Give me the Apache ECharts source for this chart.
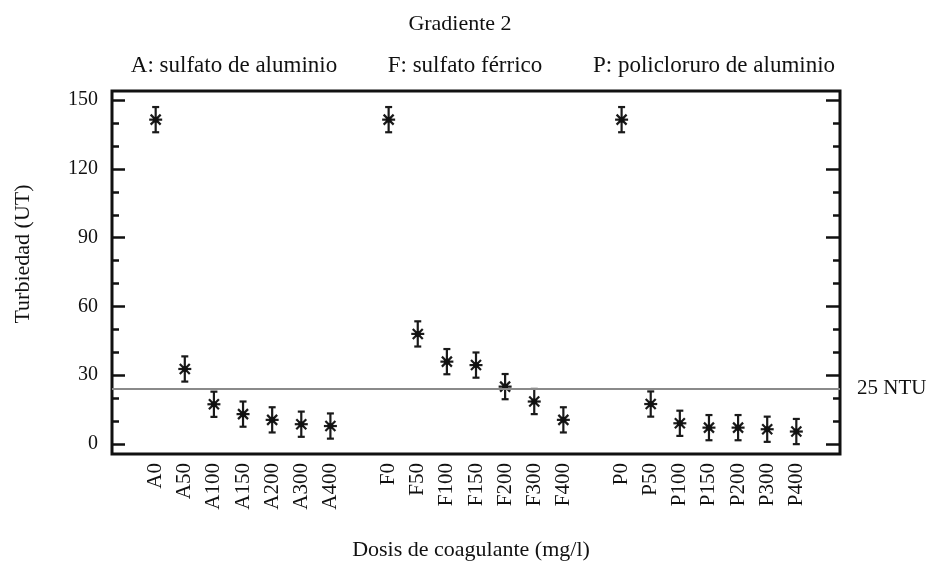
<!DOCTYPE html>
<html>
<head>
<meta charset="utf-8">
<script src="https://cdn.jsdelivr.net/npm/echarts@6/dist/echarts.min.js"></script>
<style>html,body{margin:0;padding:0;background:#fff}#c{width:932px;height:563px}</style>
</head>
<body>
<div id="c"></div>
<script>
// ---- data ----
const catsA = ['A0','A50','A100','A150','A200','A300','A400'];
const catsF = ['F0','F50','F100','F150','F200','F300','F400'];
const catsP = ['P0','P50','P100','P150','P200','P300','P400'];
const valuesA = [141.5, 32.7, 17.3, 13.0, 10.5, 8.6, 7.8];
const valuesF = [141.5, 48.0, 35.9, 34.4, 25.0, 18.5, 10.5];
const valuesP = [141.5, 17.4, 9.0, 7.1, 7.1, 6.4, 5.4];
const errA = [5.5, 5.5, 5.5, 5.5, 5.5, 5.5, 5.5];
const errF = [5.5, 5.5, 5.5, 5.5, 5.5, 5.5, 5.5];
const errP = [5.5, 5.5, 5.5, 5.5, 5.5, 5.5, 5.5];
const yTickLabels = [0, 30, 60, 90, 120, 150];
const yMinorTicks = [0, 10, 20, 30, 40, 50, 60, 70, 80, 90, 100, 110, 120, 130, 140, 150];
const limitValue = 24;
const limitLabel = '25 NTU';
const groupTitles = ['A: sulfato de aluminio', 'F: sulfato férrico', 'P: policloruro de aluminio'];

// ---- build ----
const categories = [''].concat(catsA, [''], catsF, [''], catsP, ['']);
const pts = [];
function addGroup(cats, vals, errs) {
  cats.forEach((c, i) => pts.push([categories.indexOf(c), vals[i], errs[i]]));
}
addGroup(catsA, valuesA, errA);
addGroup(catsF, valuesF, errF);
addGroup(catsP, valuesP, errP);

const FONT = '"Liberation Serif", "Times New Roman", serif';
const INK = '#111';
const YMIN = -4.4, YMAX = 154;

function yAx(pos, custom, len, withLabel) {
  return {
    type: 'value', position: pos, min: YMIN, max: YMAX,
    axisLine: { show: false },
    splitLine: { show: false },
    axisTick: { show: true, inside: true, length: len, customValues: custom,
      lineStyle: { color: INK, width: 2.5 } },
    axisLabel: withLabel ? { show: true, customValues: yTickLabels, margin: 14,
      fontFamily: FONT, fontSize: 20, color: INK } : { show: false }
  };
}

const chart = echarts.init(document.getElementById('c'));

chart.setOption({
  animation: false,
  title: [
    { text: 'Gradiente 2', left: 455, top: 8, textAlign: 'center',
      textStyle: { fontFamily: FONT, fontSize: 22, fontWeight: 'normal', color: INK } },
    { text: groupTitles[0], left: 229, top: 49, textAlign: 'center',
      textStyle: { fontFamily: FONT, fontSize: 23, fontWeight: 'normal', color: INK } },
    { text: groupTitles[1], left: 460, top: 49, textAlign: 'center',
      textStyle: { fontFamily: FONT, fontSize: 23, fontWeight: 'normal', color: INK } },
    { text: groupTitles[2], left: 709, top: 49, textAlign: 'center',
      textStyle: { fontFamily: FONT, fontSize: 23, fontWeight: 'normal', color: INK } }
  ],
  graphic: [
    { type: 'text', x: 23, y: 254, rotation: Math.PI / 2,
      style: { text: 'Turbiedad (UT)', fontFamily: FONT, fontSize: 22, fill: INK,
        textAlign: 'center', textVerticalAlign: 'middle' } },
    { type: 'text', x: 471, y: 550,
      style: { text: 'Dosis de coagulante (mg/l)', fontFamily: FONT, fontSize: 22, fill: INK,
        textAlign: 'center', textVerticalAlign: 'middle' } }
  ],
  grid: { left: 112, right: 92, top: 91, bottom: 109, show: true,
    borderColor: INK, borderWidth: 3, backgroundColor: 'transparent' },
  xAxis: {
    type: 'category', data: categories, boundaryGap: true,
    axisLine: { show: false }, axisTick: { show: false },
    axisLabel: { interval: 0, rotate: 90, margin: 9, fontFamily: FONT, fontSize: 21, color: INK }
  },
  yAxis: [
    yAx('left', yTickLabels, 13, true),
    yAx('left', yMinorTicks, 7, false),
    yAx('right', yTickLabels, 14, false),
    yAx('right', yMinorTicks, 7, false)
  ],
  series: [{
    type: 'custom',
    xAxisIndex: 0, yAxisIndex: 0,
    data: pts,
    encode: { x: 0, y: 1 },
    renderItem: function (params, api) {
      const x = api.value(0), v = api.value(1), e = api.value(2);
      const c = api.coord([x, v]);
      const t = api.coord([x, v + e]);
      const b = api.coord([x, v - e]);
      const st = { stroke: '#1a1a1a', lineWidth: 2.2, fill: null };
      const h = 6.5, d = 5, cap = 3.5;
      const L = (x1, y1, x2, y2) => ({ type: 'line', shape: { x1, y1, x2, y2 }, style: st });
      return {
        type: 'group',
        children: [
          L(c[0], t[1], c[0], b[1]),
          L(c[0] - cap, t[1], c[0] + cap, t[1]),
          L(c[0] - cap, b[1], c[0] + cap, b[1]),
          L(c[0] - h, c[1], c[0] + h, c[1]),
          L(c[0] - d, c[1] - d, c[0] + d, c[1] + d),
          L(c[0] - d, c[1] + d, c[0] + d, c[1] - d),
          { type: 'circle', shape: { cx: c[0], cy: c[1], r: 3 }, style: { fill: '#111' } }
        ]
      };
    },
    markLine: {
      silent: true, symbol: 'none',
      lineStyle: { color: '#8a8a8a', width: 2, type: 'solid' },
      label: { show: true, position: 'end', formatter: limitLabel, distance: 17,
        fontFamily: FONT, fontSize: 21, color: INK },
      data: [{ yAxis: limitValue }]
    }
  }]
});
</script>
</body>
</html>
